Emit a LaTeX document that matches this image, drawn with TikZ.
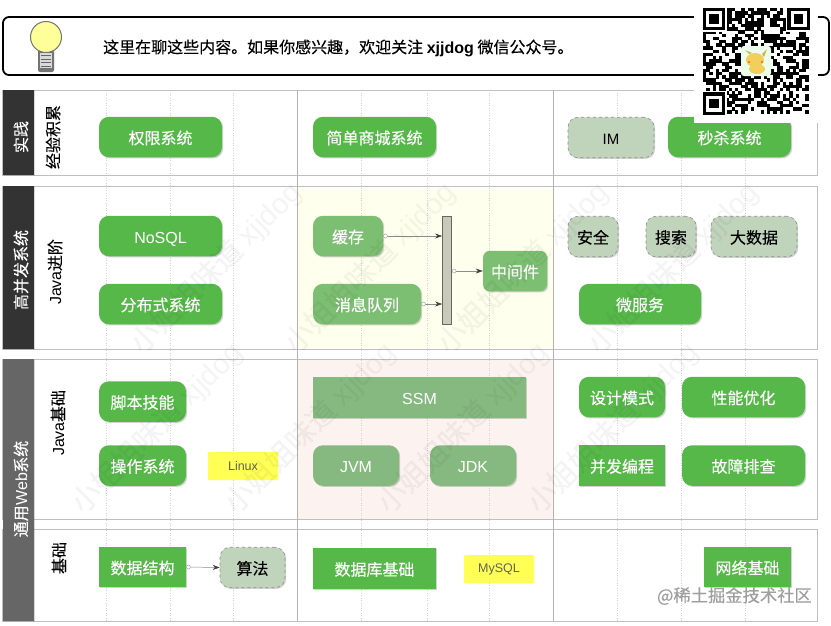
\documentclass[tikz,border=0pt]{standalone}
\usepackage{fontspec}
\setmainfont[FakeBold=0.1]{Noto Sans CJK SC}
\newfontfamily\latn{Liberation Sans}
\usetikzlibrary{arrows.meta, shadows}
\definecolor{topicgreen}{HTML}{57B84A}
\definecolor{fadegreen}{HTML}{7CBF72}
\definecolor{pinkgreen}{HTML}{85B97F}
\definecolor{sagefill}{HTML}{C0D3BB}
\definecolor{barfill}{HTML}{C9C9B8}
\definecolor{tagfill}{HTML}{FFFF55}
\definecolor{bulbfill}{HTML}{FFFF99}
\definecolor{yellowzone}{HTML}{FFFFEE}
\definecolor{pinkzone}{HTML}{FCF3F0}
\definecolor{pikayellow}{HTML}{F2CF5B}
\tikzset{
  softshadow/.style={drop shadow={shadow xshift=1.2pt,shadow yshift=-1.2pt,opacity=.25,fill=black!70}},
  topic/.style={rounded corners=10pt,fill=topicgreen,text=white,font=\fontsize{16}{16}\selectfont,
    inner sep=0pt,text height=15pt,text depth=1pt,minimum height=40.5pt,softshadow},
  squaretopic/.style={topic,sharp corners},
  fadetopic/.style={topic,fill=fadegreen},
  pinktopic/.style={topic,fill=pinkgreen},
  sagetopic/.style={topic,fill=sagefill,text=black,draw=black!45,dashed,line width=.6pt},
  notetag/.style={fill=tagfill,text=black!62,rounded corners=1pt,inner sep=0pt,
    font=\latn\fontsize{12.5}{13}\selectfont,minimum width=70pt,minimum height=28pt},
  rowbox/.style={draw=black!25,line width=.8pt},
  sidebar/.style={text=white,rotate=90,font=\fontsize{16}{16}\selectfont},
  sidetext/.style={text=black,rotate=90,font=\fontsize{16}{16}\selectfont},
  flowline/.style={draw=black!45,line width=.5pt,{Circle[length=4.5pt,width=4.5pt,fill=white,color=black!35]}-{Stealth[length=7pt,width=5pt,color=black!75]}},
  markname/.style={black,opacity=.045,rotate=45,font=\fontsize{29}{29}\selectfont}
}
\begin{document}
\begin{tikzpicture}[x=1pt,y=-1pt]
  \useasboundingbox (0,0) rectangle (831,625);
  \fill[white] (0,0) rectangle (831,625);
  % colour zones
  \fill[yellowzone] (297,189) rectangle (553,348);
  \fill[pinkzone] (297,360) rectangle (553,519);
  % guide lines
  \foreach \gx in {106,170,233,361,427,489,617,681,745}
    \draw[black!18,dotted,line width=.5pt] (\gx,90) -- (\gx,621);
  % rows
  \foreach \ya/\yb in {90/175,186/349,359/519,529/621}
    \draw[rowbox] (2.5,\ya) rectangle (817,\yb);
  \draw[black!30,line width=.7pt] (297,90) -- (297,621) (553,90) -- (553,621);
  \fill[black!80,drop shadow={shadow xshift=1pt,shadow yshift=-1pt,opacity=.3}] (3,90) rectangle (34,175);
  \fill[black!80,drop shadow={shadow xshift=1pt,shadow yshift=-1pt,opacity=.3}] (3,186) rectangle (34,349);
  \fill[black!60,drop shadow={shadow xshift=1pt,shadow yshift=-1pt,opacity=.3}] (3,359) rectangle (34,621);
  \node[sidebar] (practice) at (21,137) {实践};
  \node[sidebar] (highload) at (21,270) {高并发系统};
  \node[sidebar] (webbase) at (21,489) {通用{\latn Web}系统};
  \node[sidetext] (experience) at (53,137) {经验积累};
  \node[sidetext] (javaup) at (55,272) {{\latn Java}进阶};
  \node[sidetext] (javabase) at (58,423) {{\latn Java}基础};
  \node[sidetext] (basics) at (59,558) {基础};

  % row one
  \node[topic,minimum width=123pt] (perm) at (160.5,137) {权限系统};
  \node[topic,minimum width=123pt] (shop) at (374.5,137) {简单商城系统};
  \node[sagetopic,minimum width=86pt] (im) at (611,137.5) {\latn\fontsize{15}{15}\selectfont IM};
  \node[topic,minimum width=123pt] (seckill) at (729.5,137) {秒杀系统};

  % row two
  \node[topic,minimum width=123pt] (nosql) at (160.5,236) {\latn NoSQL};
  \node[topic,minimum width=123pt] (distsys) at (160.5,304) {分布式系统};
  \node[fadetopic,minimum width=70pt] (cache) at (348,236) {缓存};
  \node[fadetopic,minimum width=108pt] (queue) at (367,304) {消息队列};
  \node[draw=black!60,fill=barfill,line width=.7pt,inner sep=0pt,minimum width=9pt,minimum height=108pt] (bar) at (447,270.5) {};
  \node[fadetopic,rounded corners=7pt,minimum width=64pt] (middle) at (515,271) {中间件};
  \draw[flowline] (cache.east) -- (bar.west |- cache.east);
  \draw[flowline] (queue.east) -- (bar.west |- queue.east);
  \draw[flowline] (bar.east |- middle.west) -- (middle.west);
  \node[sagetopic,minimum width=50pt] (safe) at (593,236.5) {安全};
  \node[sagetopic,minimum width=50pt] (search) at (671,236.5) {搜索};
  \node[sagetopic,minimum width=86pt] (bigdata) at (754,236.5) {大数据};
  \node[topic,minimum width=122pt] (micro) at (640,304) {微服务};

  % row three
  \node[topic,minimum width=87pt] (script) at (142.5,401.5) {脚本技能};
  \node[topic,minimum width=87pt] (opsys) at (142.5,465.5) {操作系统};
  \node[notetag] (linux) at (243,466) {Linux};
  \node[pinktopic,sharp corners,minimum width=213pt] (ssm) at (419.5,397.5) {\latn SSM};
  \node[pinktopic,minimum width=86pt] (jvm) at (356,465.5) {\latn JVM};
  \node[pinktopic,minimum width=86pt] (jdk) at (473,465.5) {\latn JDK};
  \node[topic,minimum width=86pt] (pattern) at (622,397) {设计模式};
  \node[topic,minimum width=123pt] (tuning) at (743.5,397) {性能优化};
  \node[squaretopic,minimum width=86pt] (concur) at (622,465.5) {并发编程};
  \node[topic,minimum width=123pt] (fault) at (743.5,465.5) {故障排查};

  % row four
  \node[squaretopic,minimum width=87pt] (struct) at (142.5,567) {数据结构};
  \node[sagetopic,minimum width=65pt] (algo) at (252.5,567.5) {算法};
  \draw[flowline] (struct.east) -- (algo.west);
  \node[squaretopic,minimum width=123pt] (dbbase) at (374.5,568.5) {数据库基础};
  \node[notetag] (mysql) at (499,569) {MySQL};
  \node[squaretopic,minimum width=87pt] (netbase) at (747.5,567) {网络基础};

  % banner
  \draw[black,line width=1.8pt,rounded corners=6pt] (3,17) rectangle (829,75);
  \node[anchor=west,inner sep=0pt,font=\fontsize{16}{16}\selectfont] (slogan) at (103,48)
    {这里在聊这些内容。如果你感兴趣，欢迎关注 {\latn\bfseries xjjdog} 微信公众号。};
  % bulb
  \fill[black!55,rounded corners=2pt] (38,50) rectangle (54,72);
  \fill[black!15] (40,53) rectangle (52,68);
  \foreach \by in {55.5,59,62.5,66}
    \draw[black!60,line width=.7pt] (41,\by) -- (51,\by);
  \draw[black!55,fill=bulbfill,line width=1pt] (46,37) circle (15.5);

  % qr block
  \fill[white] (694,0) rectangle (818,123);
  \pgfmathsetseed{4711}
  \foreach \qi in {0,...,32}
    \foreach \qj in {0,...,32}{
      \pgfmathrandominteger{\qbit}{0}{99}
      \ifnum\qbit<52
        \fill[black] ({703+\qi*3.2},{8+\qj*3.2}) rectangle ++(3.3,3.3);
      \fi
    }
  \foreach \fx/\fy in {703/8,787.4/8,703/92.4}{
    \fill[white] (\fx-1,\fy-1) rectangle ++(25.4,25.4);
    \fill[black] (\fx,\fy) rectangle ++(22.4,22.4);
    \fill[white] (\fx+3.2,\fy+3.2) rectangle ++(16,16);
    \fill[black] (\fx+6.4,\fy+6.4) rectangle ++(9.6,9.6);
  }
  \fill[white!92!green,rounded corners=3pt] (741,46) rectangle (771,76);
  \fill[pikayellow] (755,60) ellipse (9 and 7);
  \fill[pikayellow] (757,69) ellipse (8 and 5);
  \fill[pikayellow!85!black] (749,54) -- (745,50) -- (752,53) -- cycle (762,54) -- (767,49) -- (764,57) -- cycle;
  \fill[orange!80!red] (749,62) circle (1.2) (762,62) circle (1.2);

  % watermarks
  \foreach \wx/\wy in {216/268,370/268,523/268,673/268,157/428,310/428,463/428,613/428}
    \node[markname] at (\wx,\wy) {小姐姐味道 {\latn xjjdog}};
  \node[anchor=east,inner sep=0pt,text=black!38,font=\fontsize{17.3}{17.3}\selectfont] (juejin) at (812,596) {@稀土掘金技术社区};
\end{tikzpicture}
\end{document}
